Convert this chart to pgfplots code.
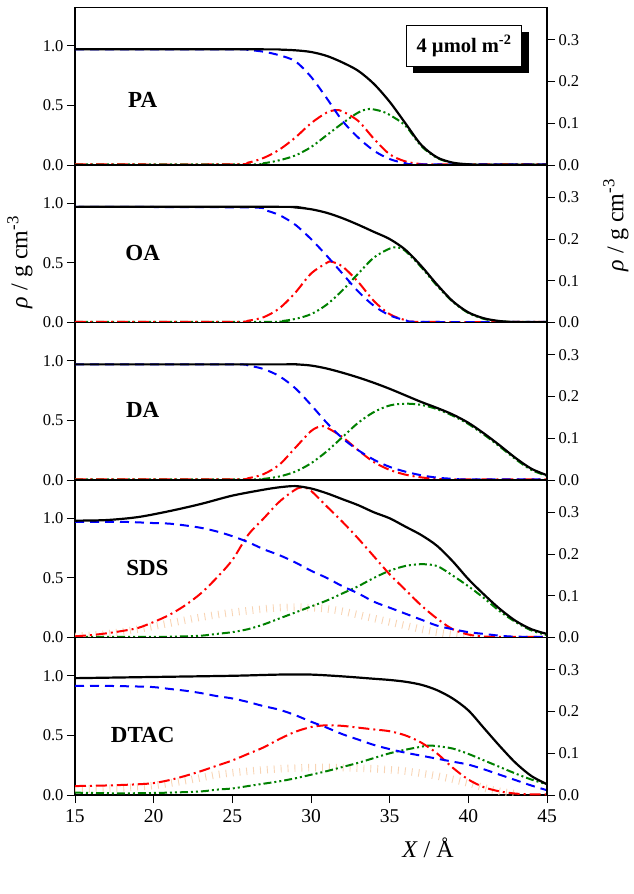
\documentclass[border=0pt]{standalone}
\usepackage{fontspec}
\setmainfont{Liberation Serif}
\usepackage{pgfplots}
\pgfplotsset{compat=1.18}
\definecolor{dgreen}{RGB}{0,128,0}
\definecolor{peach}{RGB}{248,212,180}
\tikzset{lab/.style={font=\fontsize{23}{26}\selectfont\bfseries}}
\pgfplotsset{
  common/.style={width=472pt,height=157.5pt,scale only axis,xmin=15,xmax=45,
    anchor=south west,tick align=outside,major tick length=8pt,
    every tick/.style={black,line width=0.9pt},
    axis line style={line width=1.1pt},
    /pgf/number format/assume math mode=true,
    yticklabel style={/pgf/number format/.cd,fixed,fixed zerofill,precision=1},
    ticklabel style={font=\fontsize{16.5}{19}\selectfont}},
  panel/.style={common,ymin=0,ymax=1.321,ytick={0,0.5,1.0},ytick pos=left,
    xtick=\empty},
  rpanel/.style={common,ymin=0,ymax=0.3774,ytick={0,0.1,0.2,0.3},
    axis y line*=right,axis x line=none},
  blk/.style={black,line width=2.2pt,smooth,no marks},
  blu/.style={blue,line width=2pt,dash pattern=on 9pt off 6pt,smooth,no marks},
  rd/.style={red,line width=2pt,dash pattern=on 11pt off 4pt on 2pt off 4pt,smooth,no marks},
  grn/.style={dgreen,line width=2pt,dash pattern=on 8pt off 3pt on 2pt off 3pt on 2pt off 3pt,smooth,no marks},
  org/.style={peach,line width=7.5pt,dash pattern=on 0.9pt off 6pt,smooth,no marks}
}
\begin{document}
\begin{tikzpicture}
\path[use as bounding box] (0pt,0pt) rectangle (633pt,-894pt);
% ---------- Panel 1: PA ----------
\begin{axis}[panel,at={(75pt,-165pt)}]
\addplot[grn] coordinates {(15,0.005)(26,0.005)(27,0.015)(28,0.04)(29,0.08)(30,0.15)(31,0.25)(32,0.35)(33,0.44)(33.7,0.47)(34.5,0.45)(35,0.42)(36,0.33)(37,0.16)(38,0.06)(39,0.018)(40,0.005)(45,0.005)};
\addplot[rd] coordinates {(15,0.005)(25,0.005)(26,0.02)(27,0.06)(28,0.13)(29,0.23)(30,0.35)(31,0.44)(31.6,0.46)(32,0.45)(33,0.37)(34,0.22)(35,0.09)(36,0.03)(37,0.008)(38,0.005)(45,0.005)};
\addplot[blu] coordinates {(15,0.97)(25,0.97)(26,0.965)(27,0.95)(28,0.92)(29,0.87)(30,0.74)(31,0.56)(32,0.37)(33,0.23)(34,0.12)(35,0.05)(36,0.015)(37,0.005)(45,0.005)};
\addplot[blk] coordinates {(15,0.97)(27,0.97)(28,0.968)(29,0.962)(30,0.948)(31,0.915)(32,0.86)(33,0.79)(34,0.68)(35,0.53)(36,0.35)(37,0.17)(38,0.065)(39,0.02)(40,0.006)(41,0.002)(45,0.002)};
\node[lab] at (axis cs:19.3,0.55) {PA};
\end{axis}
\begin{axis}[rpanel,at={(75pt,-165pt)}]
\end{axis}
% ---------- Panel 2: OA ----------
\begin{axis}[panel,at={(75pt,-322.5pt)}]
\addplot[grn] coordinates {(15,0.005)(27,0.005)(28,0.01)(29,0.03)(30,0.07)(31,0.15)(32,0.27)(33,0.41)(34,0.545)(35,0.62)(35.5,0.63)(36,0.6)(37,0.465)(38,0.31)(39,0.175)(40,0.08)(41,0.03)(42,0.01)(43,0.005)(45,0.005)};
\addplot[rd] coordinates {(15,0.005)(25,0.005)(26,0.015)(27,0.045)(28,0.12)(29,0.25)(30,0.41)(31,0.5)(31.3,0.51)(32,0.47)(33,0.34)(34,0.18)(35,0.07)(36,0.02)(37,0.005)(45,0.005)};
\addplot[blu] coordinates {(15,0.97)(26,0.965)(27,0.945)(28,0.9)(29,0.82)(30,0.7)(31,0.56)(32,0.41)(33,0.26)(34,0.14)(35,0.06)(36,0.02)(37,0.005)(45,0.005)};
\addplot[blk] coordinates {(15,0.97)(28,0.97)(29,0.965)(30,0.95)(31,0.92)(32,0.875)(33,0.82)(34,0.76)(35,0.70)(36,0.61)(37,0.475)(38,0.32)(39,0.18)(40,0.085)(41,0.035)(42,0.012)(43,0.004)(45,0.002)};
\node[lab] at (axis cs:19.3,0.58) {OA};
\end{axis}
\begin{axis}[rpanel,at={(75pt,-322.5pt)}]
\end{axis}
% ---------- Panel 3: DA ----------
\begin{axis}[panel,at={(75pt,-480pt)}]
\addplot[grn] coordinates {(15,0.005)(26,0.005)(27,0.01)(28,0.03)(29,0.07)(30,0.14)(31,0.24)(32,0.36)(33,0.48)(34,0.57)(35,0.625)(36,0.64)(37,0.63)(38,0.595)(39,0.54)(40,0.47)(41,0.38)(42,0.28)(43,0.175)(44,0.085)(45,0.035)};
\addplot[rd] coordinates {(15,0.005)(25,0.005)(26,0.015)(27,0.05)(28,0.13)(29,0.27)(30,0.41)(30.6,0.45)(31,0.44)(32,0.36)(33,0.25)(34,0.15)(35,0.085)(36,0.045)(37,0.022)(38,0.01)(39,0.005)(45,0.005)};
\addplot[blu] coordinates {(15,0.97)(25,0.97)(26,0.96)(27,0.93)(28,0.87)(29,0.77)(30,0.63)(31,0.48)(32,0.35)(33,0.25)(34,0.17)(35,0.11)(36,0.07)(37,0.04)(38,0.02)(39,0.01)(40,0.005)(45,0.005)};
\addplot[blk] coordinates {(15,0.97)(28,0.97)(29,0.97)(30,0.96)(31,0.935)(32,0.9)(33,0.86)(34,0.815)(35,0.765)(36,0.71)(37,0.655)(38,0.605)(39,0.55)(40,0.48)(41,0.39)(42,0.29)(43,0.185)(44,0.095)(45,0.04)};
\node[lab] at (axis cs:19.3,0.59) {DA};
\end{axis}
\begin{axis}[rpanel,at={(75pt,-480pt)}]
\end{axis}
% ---------- Panel 4: SDS ----------
\begin{axis}[panel,at={(75pt,-637.5pt)}]
\addplot[org] coordinates {(15,0.01)(17,0.03)(19,0.07)(21,0.12)(23,0.17)(25,0.21)(27,0.24)(28,0.25)(29,0.255)(30,0.25)(31,0.24)(32,0.22)(33,0.19)(34,0.16)(35,0.13)(36,0.10)(37,0.07)(38,0.045)(39,0.025)(40,0.01)(41,0.005)};
\addplot[grn] coordinates {(15,0.005)(20,0.005)(22,0.01)(23,0.015)(24,0.03)(25,0.045)(26,0.07)(27,0.11)(28,0.16)(29,0.21)(30,0.26)(31,0.31)(32,0.37)(33,0.43)(34,0.50)(35,0.56)(36,0.60)(37,0.615)(38,0.60)(39,0.52)(40,0.43)(41,0.33)(42,0.22)(43,0.13)(44,0.06)(45,0.02)};
\addplot[rd] coordinates {(15,0.01)(16,0.02)(17,0.035)(18,0.055)(19,0.08)(20,0.13)(21,0.19)(22,0.27)(23,0.37)(24,0.50)(25,0.65)(26,0.86)(27,1.00)(28,1.14)(29,1.24)(29.5,1.26)(30,1.23)(31,1.10)(32,0.97)(33,0.83)(34,0.68)(35,0.53)(36,0.40)(37,0.27)(38,0.16)(39,0.07)(40,0.025)(41,0.008)(42,0.005)(45,0.005)};
\addplot[blu] coordinates {(15,0.97)(18,0.97)(20,0.96)(21,0.955)(22,0.94)(23,0.92)(24,0.89)(25,0.85)(26,0.80)(27,0.74)(28,0.69)(29,0.63)(30,0.56)(31,0.50)(32,0.43)(33,0.37)(34,0.30)(35,0.25)(36,0.20)(37,0.15)(38,0.10)(39,0.07)(40,0.045)(41,0.03)(42,0.015)(43,0.007)(45,0.005)};
\addplot[blk] coordinates {(15,0.98)(17,0.985)(19,1.01)(21,1.06)(23,1.12)(25,1.19)(27,1.24)(28,1.26)(29,1.27)(30,1.25)(31,1.21)(32,1.16)(33,1.11)(34,1.05)(35,1.0)(36,0.93)(37,0.86)(38,0.77)(39,0.64)(40,0.49)(41,0.36)(42,0.24)(43,0.14)(44,0.07)(45,0.03)};
\node[lab] at (axis cs:19.6,0.58) {SDS};
\end{axis}
\begin{axis}[rpanel,at={(75pt,-637.5pt)}]
\end{axis}
% ---------- Panel 5: DTAC ----------
\begin{axis}[panel,at={(75pt,-795pt)},xtick={15,20,...,45},xtick pos=bottom,
  xticklabel style={font=\fontsize{19.5}{22}\selectfont,yshift=-3pt}]
\addplot[org] coordinates {(15,0.05)(18,0.06)(20,0.08)(22,0.12)(24,0.17)(26,0.20)(28,0.22)(30,0.23)(32,0.23)(34,0.22)(36,0.20)(38,0.16)(40,0.10)(41,0.06)(42,0.03)(43,0.01)};
\addplot[grn] coordinates {(15,0.02)(17,0.015)(19,0.015)(21,0.02)(23,0.03)(24,0.045)(25,0.055)(26,0.075)(27,0.095)(28,0.115)(29,0.14)(30,0.17)(31,0.20)(32,0.235)(33,0.27)(34,0.31)(35,0.35)(36,0.38)(37,0.405)(37.5,0.415)(38,0.41)(39,0.39)(40,0.345)(41,0.29)(42,0.235)(43,0.18)(44,0.13)(45,0.09)};
\addplot[rd] coordinates {(15,0.075)(17,0.08)(19,0.09)(20,0.10)(21,0.125)(22,0.16)(23,0.20)(24,0.245)(25,0.29)(26,0.345)(27,0.40)(28,0.47)(29,0.53)(30,0.57)(31,0.585)(32,0.58)(33,0.565)(34,0.55)(35,0.535)(36,0.50)(37,0.44)(38,0.35)(39,0.23)(40,0.13)(41,0.065)(42,0.03)(43,0.012)(44,0.005)(45,0.005)};
\addplot[blu] coordinates {(15,0.915)(17,0.915)(19,0.91)(20,0.905)(21,0.89)(22,0.875)(23,0.855)(24,0.83)(25,0.81)(26,0.78)(27,0.745)(28,0.715)(29,0.67)(30,0.615)(31,0.565)(32,0.51)(33,0.465)(34,0.42)(35,0.385)(36,0.355)(37,0.33)(38,0.305)(39,0.28)(40,0.255)(41,0.215)(42,0.17)(43,0.125)(44,0.08)(45,0.04)};
\addplot[blk] coordinates {(15,0.98)(20,0.99)(25,1.0)(28,1.01)(30,1.01)(32,0.995)(34,0.975)(35,0.965)(36,0.95)(37,0.925)(38,0.88)(39,0.81)(40,0.71)(41,0.56)(42,0.41)(43,0.27)(44,0.16)(45,0.09)};
\node[lab] at (axis cs:19.3,0.5) {DTAC};
\end{axis}
\begin{axis}[rpanel,at={(75pt,-795pt)}]
\end{axis}
% ---------- annotation box ----------
\fill[black] (413pt,-32pt) rectangle (529pt,-73pt);
\draw[fill=white,line width=1pt] (406.7pt,-25pt) rectangle (521.7pt,-66.7pt);
\node[font=\fontsize{20.5}{23}\selectfont\bfseries] at (464pt,-46pt) {4 µmol m\textsuperscript{-2}};
% ---------- axis titles ----------
\node[rotate=90,font=\fontsize{24}{28}\selectfont] at (20pt,-262pt) {\textit{ρ} / g cm\textsuperscript{-3}};
\node[rotate=90,font=\fontsize{24}{28}\selectfont] at (616pt,-225pt) {\textit{ρ} / g cm\textsuperscript{-3}};
\node[font=\fontsize{24}{28}\selectfont] at (428pt,-848pt) {\textit{X} / Å};
\end{tikzpicture}
\end{document}
